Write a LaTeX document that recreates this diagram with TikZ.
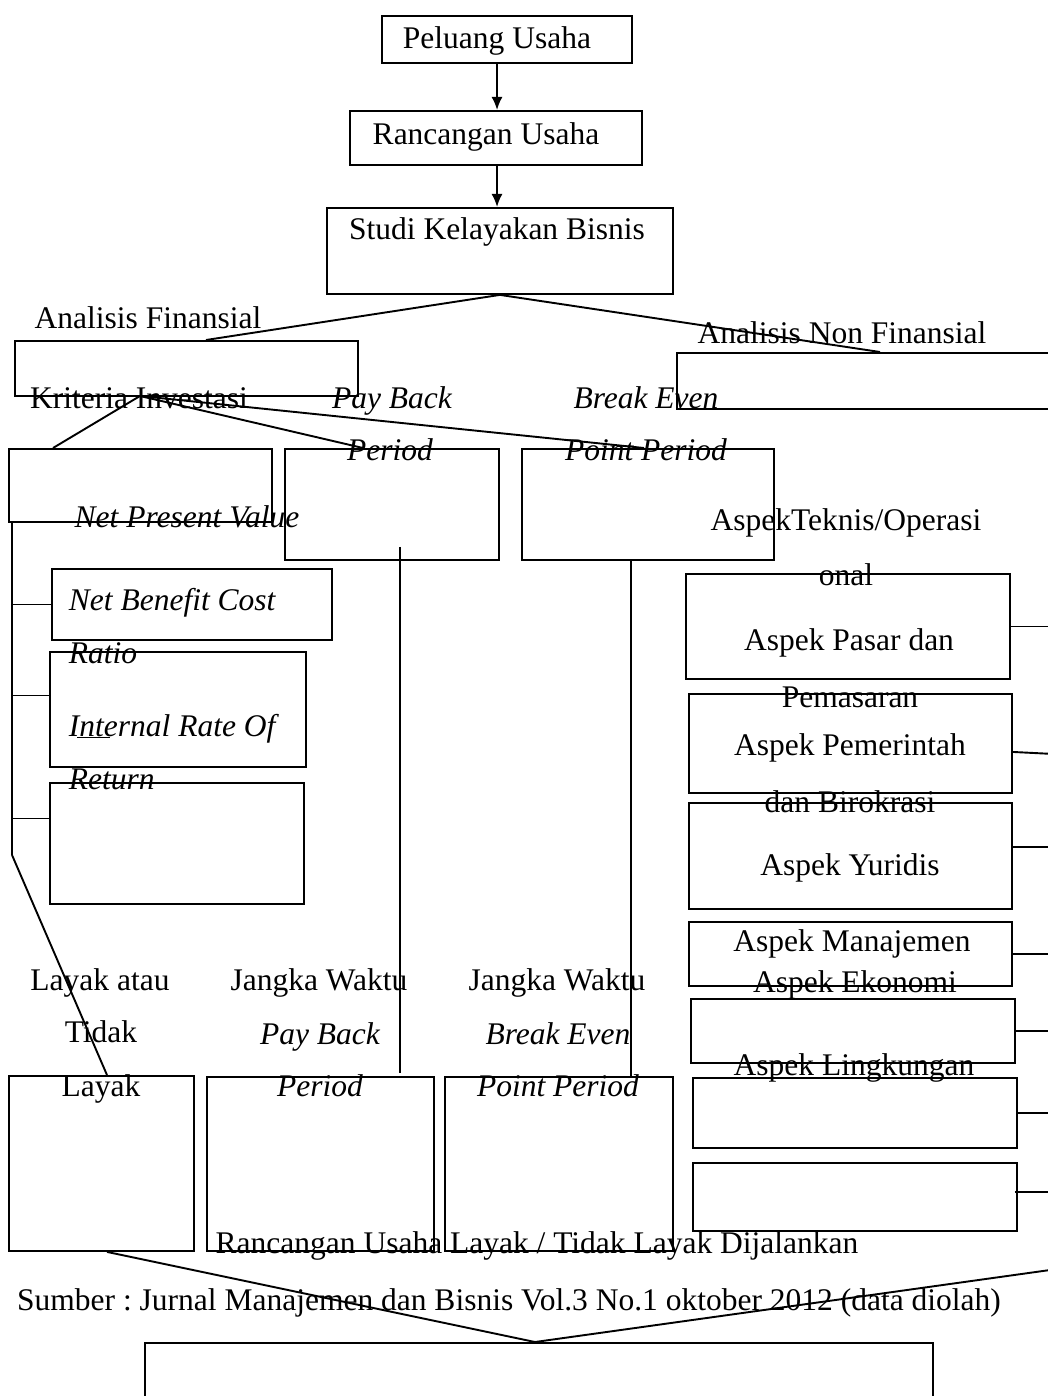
\documentclass[tikz,border=0pt]{standalone}
\usepackage{fontspec}
\setmainfont{Liberation Serif}
\usepackage{tikz}
\usetikzlibrary{arrows, arrows.meta, positioning}
\newcommand{\besar}{\fontsize{31.5}{38}\selectfont}
\frenchspacing

\begin{document}
\begin{tikzpicture}[x=1pt,y=-1pt,>={Latex[length=13pt,width=11pt]},line width=1.9pt,
    box/.style 2 args={draw,anchor=north west,inner sep=0pt,minimum width=#1,minimum height=#2},
    teks/.style={inner sep=0pt,anchor=base,font=\besar},
    miring/.style={teks,font=\besar\itshape}]
      \useasboundingbox (0,0) rectangle (1048,1396);

      % kotak-kotak
      \node[box={250pt}{47pt}] (peluang) at (381,15) {};
      \node[box={292pt}{54pt}] (rancangan) at (349,110) {};
      \node[box={346pt}{86pt}] (studi) at (326,207) {};
      \node[box={343pt}{55pt}] (fin) at (14,340) {};
      \node[box={400pt}{56pt}] (nonfin) at (676,352) {};
      \node[box={263pt}{73pt}] (npv) at (8,448) {};
      \node[box={214pt}{111pt}] (pbp) at (284,448) {};
      \node[box={252pt}{111pt}] (bep) at (521,448) {};
      \node[box={280pt}{71pt}] (nbc) at (51,568) {};
      \node[box={256pt}{115pt}] (irr) at (49,651) {};
      \node[box={254pt}{121pt}] (emp) at (49,782) {};
      \node[box={324pt}{105pt}] (asp1) at (685,573) {};
      \node[box={323pt}{99pt}] (asp2) at (688,693) {};
      \node[box={323pt}{106pt}] (asp3) at (688,802) {};
      \node[box={323pt}{64pt}] (asp4) at (688,921) {};
      \node[box={324pt}{64pt}] (asp5) at (690,998) {};
      \node[box={324pt}{70pt}] (asp6) at (692,1077) {};
      \node[box={324pt}{68pt}] (asp7) at (692,1162) {};
      \node[box={185pt}{175pt}] (layak) at (8,1075) {};
      \node[box={227pt}{174pt}] (jwpbp) at (206,1076) {};
      \node[box={228pt}{174pt}] (jwbep) at (444,1076) {};
      \node[box={788pt}{100pt}] (hasil) at (144,1342) {};

      % tulisan
      \node[teks] (tPeluang) at (497,49) {Peluang Usaha};
      \node[teks] (tRancangan) at (486,145) {Rancangan Usaha};
      \node[teks] (tStudi) at (497,240) {Studi Kelayakan Bisnis};
      \node[teks] (tFin) at (148,328) {Analisis Finansial};
      \node[teks] (tNonfin) at (842,343) {Analisis Non Finansial};
      \node[teks] (tKriteria) at (139,408) {Kriteria Investasi};
      \node[miring] (tPb1) at (392,408) {Pay Back};
      \node[miring] (tPer1) at (390,460) {Period};
      \node[miring] (tBe1) at (646,408) {Break Even};
      \node[miring] (tPp1) at (646,460) {Point Period};
      \node[miring] (tNpv) at (187,527) {Net Present Value};
      \node[miring,anchor=base west] (tNbc) at (68,610) {Net Benefit Cost};
      \node[miring,anchor=base west] (tRatio) at (68,663) {Ratio};
      \node[miring,anchor=base west] (tIrr) at (68,736) {Internal Rate Of};
      \node[miring,anchor=base west] (tReturn) at (68,789) {Return};
      \node[teks] (tTeknis) at (846,530) {AspekTeknis/Operasi};
      \node[teks] (tOnal) at (846,585) {onal};
      \node[teks] (tPasar) at (849,650) {Aspek Pasar dan};
      \node[teks] (tPemasaran) at (850,707) {Pemasaran};
      \node[teks] (tPemerintah) at (850,755) {Aspek Pemerintah};
      \node[teks] (tBirokrasi) at (850,812) {dan Birokrasi};
      \node[teks] (tYuridis) at (850,875) {Aspek Yuridis};
      \node[teks] (tManajemen) at (852,951) {Aspek Manajemen};
      \node[teks] (tEkonomi) at (855,992) {Aspek Ekonomi};
      \node[teks] (tLingkungan) at (854,1075) {Aspek Lingkungan};
      \node[teks] (tLayak1) at (100,990) {Layak atau};
      \node[teks] (tTidak) at (101,1042) {Tidak};
      \node[teks] (tLayak2) at (101,1096) {Layak};
      \node[teks] (tJw1) at (319,990) {Jangka Waktu};
      \node[miring] (tPb2) at (320,1044) {Pay Back};
      \node[miring] (tPer2) at (320,1096) {Period};
      \node[teks] (tJw2) at (557,990) {Jangka Waktu};
      \node[miring] (tBe2) at (558,1044) {Break Even};
      \node[miring] (tPp2) at (558,1096) {Point Period};
      \node[teks] (tHasil) at (537,1253) {Rancangan Usaha Layak / Tidak Layak Dijalankan};
      \node[teks] (tSumber) at (509,1310) {Sumber : Jurnal Manajemen dan Bisnis Vol.3 No.1 oktober 2012 (data diolah)};
      \draw[line width=1pt] (77,737) -- (110,737);

      \coordinate (kri) at (140,396);
      \coordinate (spine) at (12,855);
      \coordinate (tepi) at (1050,0);
      \coordinate (kanan) at (1050,1270);

      \path (peluang.south -| tPeluang) edge[->] (rancangan.north -| tPeluang)
            (rancangan.south -| tPeluang) edge[->] (studi.north -| tPeluang)
            (studi.south) edge ([xshift=192pt]fin.north west)
            (studi.south) edge ([xshift=204pt]nonfin.north west)
            (kri) edge ([xshift=45pt]npv.north west)
            (kri) edge ([xshift=79pt]pbp.north west)
            (kri) edge ([xshift=123pt]bep.north west)
            ([xshift=4pt]npv.south west) edge (spine)
            (spine) edge ([xshift=99pt]layak.north west)
            (nbc.west -| spine) edge (nbc.west)
            ([yshift=14pt]irr.west -| spine) edge ([yshift=14pt]irr.west)
            ([yshift=25pt]emp.west -| spine) edge ([yshift=25pt]emp.west)
            ([xshift=116pt,yshift=14pt]pbp.south west) edge ([xshift=194pt,yshift=3pt]jwpbp.north west)
            ([xshift=110pt]bep.south west) edge ([xshift=187pt]jwbep.north west)
            (asp1.east) edge (asp1.east -| tepi)
            (asp4.east) edge (asp4.east -| tepi)
            (asp5.east) edge (asp5.east -| tepi)
            (asp6.east) edge (asp6.east -| tepi)
            ([xshift=99pt]layak.south west) edge ([xshift=391pt]hasil.north west)
            (kanan) edge ([xshift=391pt]hasil.north west);
      \draw ([yshift=-8.5pt]asp2.east) -- ++(40,2);
      \draw ([yshift=9pt]asp3.east) -- ++(40,0);
      \draw ([xshift=-3pt,yshift=5pt]asp7.east) -- ++(40,0);
\end{tikzpicture}
\end{document}
